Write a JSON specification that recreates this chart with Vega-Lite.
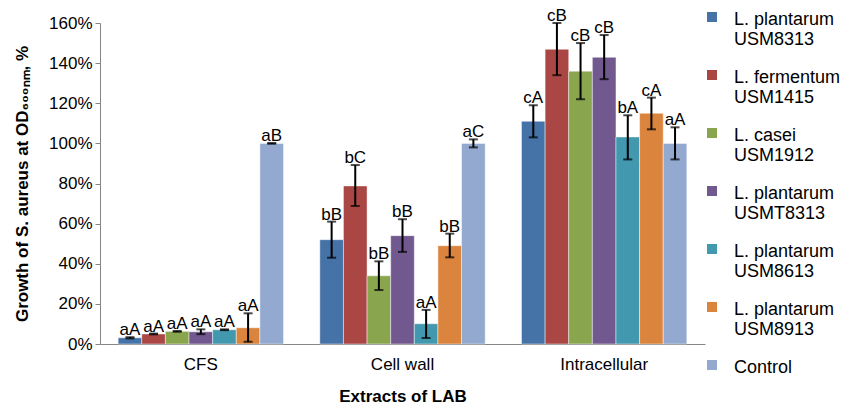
{
  "$schema": "https://vega.github.io/schema/vega-lite/v6.json",
  "width": 605,
  "height": 321,
  "autosize": {"type": "none"},
  "padding": {"left": 100, "top": 23, "right": 139, "bottom": 60},
  "background": "white",
  "config": {
    "font": "Liberation Sans",
    "view": {"stroke": null},
    "axis": {"labelFont": "Liberation Sans", "titleFont": "Liberation Sans", "labelColor": "#000", "titleColor": "#000", "labelFontSize": 17, "titleFontSize": 17, "titleFontWeight": "bold", "grid": false, "domainColor": "#868686", "tickColor": "#868686"}
  },
  "data": {
    "values": [
      {"group": "CFS", "series": "L. plantarum|USM8313", "v": 0.031, "lo": 0.028, "hi": 0.034, "label": "aA"},
      {"group": "CFS", "series": "L. fermentum|USM1415", "v": 0.05, "lo": 0.048, "hi": 0.052, "label": "aA"},
      {"group": "CFS", "series": "L. casei|USM1912", "v": 0.063, "lo": 0.061, "hi": 0.065, "label": "aA"},
      {"group": "CFS", "series": "L. plantarum|USMT8313", "v": 0.061, "lo": 0.049, "hi": 0.073, "label": "aA"},
      {"group": "CFS", "series": "L. plantarum|USM8613", "v": 0.071, "lo": 0.069, "hi": 0.073, "label": "aA"},
      {"group": "CFS", "series": "L. plantarum|USM8913", "v": 0.081, "lo": 0.011, "hi": 0.153, "label": "aA"},
      {"group": "CFS", "series": "Control", "v": 1.0, "lo": 0.998, "hi": 1.002, "label": "aB"},
      {"group": "Cell wall", "series": "L. plantarum|USM8313", "v": 0.52, "lo": 0.43, "hi": 0.61, "label": "bB"},
      {"group": "Cell wall", "series": "L. fermentum|USM1415", "v": 0.788, "lo": 0.688, "hi": 0.892, "label": "bC"},
      {"group": "Cell wall", "series": "L. casei|USM1912", "v": 0.34, "lo": 0.269, "hi": 0.412, "label": "bB"},
      {"group": "Cell wall", "series": "L. plantarum|USMT8313", "v": 0.54, "lo": 0.459, "hi": 0.622, "label": "bB"},
      {"group": "Cell wall", "series": "L. plantarum|USM8613", "v": 0.101, "lo": 0.03, "hi": 0.17, "label": "aA"},
      {"group": "Cell wall", "series": "L. plantarum|USM8913", "v": 0.49, "lo": 0.432, "hi": 0.55, "label": "bB"},
      {"group": "Cell wall", "series": "Control", "v": 1.0, "lo": 0.98, "hi": 1.02, "label": "aC"},
      {"group": "Intracellular", "series": "L. plantarum|USM8313", "v": 1.11, "lo": 1.03, "hi": 1.19, "label": "cA"},
      {"group": "Intracellular", "series": "L. fermentum|USM1415", "v": 1.469, "lo": 1.34, "hi": 1.6, "label": "cB"},
      {"group": "Intracellular", "series": "L. casei|USM1912", "v": 1.36, "lo": 1.22, "hi": 1.5, "label": "cB"},
      {"group": "Intracellular", "series": "L. plantarum|USMT8313", "v": 1.429, "lo": 1.32, "hi": 1.54, "label": "cB"},
      {"group": "Intracellular", "series": "L. plantarum|USM8613", "v": 1.032, "lo": 0.92, "hi": 1.14, "label": "bA"},
      {"group": "Intracellular", "series": "L. plantarum|USM8913", "v": 1.15, "lo": 1.07, "hi": 1.228, "label": "cA"},
      {"group": "Intracellular", "series": "Control", "v": 1.0, "lo": 0.92, "hi": 1.08, "label": "aA"}
    ]
  },
  "encoding": {
    "x": {
      "field": "group", "type": "nominal", "sort": ["CFS", "Cell wall", "Intracellular"],
      "scale": {"paddingInner": 0.18, "paddingOuter": 0.09},
      "axis": {"title": "Extracts of LAB", "labelAngle": 0, "ticks": false, "labelPadding": 12, "titlePadding": 16}
    },
    "xOffset": {
      "field": "series", "type": "nominal",
      "sort": ["L. plantarum|USM8313", "L. fermentum|USM1415", "L. casei|USM1912", "L. plantarum|USMT8313", "L. plantarum|USM8613", "L. plantarum|USM8913", "Control"],
      "scale": {"paddingInner": 0, "paddingOuter": 0}
    }
  },
  "layer": [
    {
      "mark": {"type": "bar", "stroke": "#ffffff", "strokeOpacity": 0.45, "strokeWidth": 1},
      "encoding": {
        "y": {
          "field": "v", "type": "quantitative",
          "scale": {"domain": [0, 1.6], "nice": false},
          "axis": {"format": ".0%", "values": [0, 0.2, 0.4, 0.6, 0.8, 1.0, 1.2, 1.4, 1.6], "tickSize": 5, "labelPadding": 3, "titlePadding": 17, "title": "Growth of S. aureus at OD₆₀₀ₙₘ, %"}
        },
        "color": {
          "field": "series", "type": "nominal",
          "sort": ["L. plantarum|USM8313", "L. fermentum|USM1415", "L. casei|USM1912", "L. plantarum|USMT8313", "L. plantarum|USM8613", "L. plantarum|USM8913", "Control"],
          "scale": {"range": ["#4572A7", "#AA4643", "#89A54E", "#71588F", "#4198AF", "#DB843D", "#93A9CF"]},
          "legend": {
            "title": null, "orient": "none", "legendX": 603, "legendY": -15, "padding": 0,
            "symbolType": "square", "symbolSize": 100, "symbolStrokeWidth": 0,
            "labelExpr": "split(datum.label, '|')",
            "labelFont": "Liberation Sans", "labelFontSize": 18, "labelColor": "#000", "labelOffset": 13,
            "labelBaseline": "alphabetic", "labelLineHeight": 20, "rowPadding": 17, "labelLimit": 200,
            "encoding": {"labels": {"dy": {"value": 8}}}
          }
        }
      }
    },
    {
      "mark": {"type": "rule", "color": "#000", "strokeWidth": 2},
      "encoding": {"y": {"field": "lo", "type": "quantitative"}, "y2": {"field": "hi"}}
    },
    {
      "mark": {"type": "tick", "color": "#000", "thickness": 2, "size": 9},
      "encoding": {"y": {"field": "lo", "type": "quantitative"}}
    },
    {
      "mark": {"type": "tick", "color": "#000", "thickness": 2, "size": 9},
      "encoding": {"y": {"field": "hi", "type": "quantitative"}}
    },
    {
      "mark": {"type": "text", "baseline": "alphabetic", "dy": -2, "fontSize": 17, "font": "Liberation Sans", "color": "#000"},
      "encoding": {"y": {"field": "hi", "type": "quantitative"}, "text": {"field": "label"}}
    }
  ]
}
